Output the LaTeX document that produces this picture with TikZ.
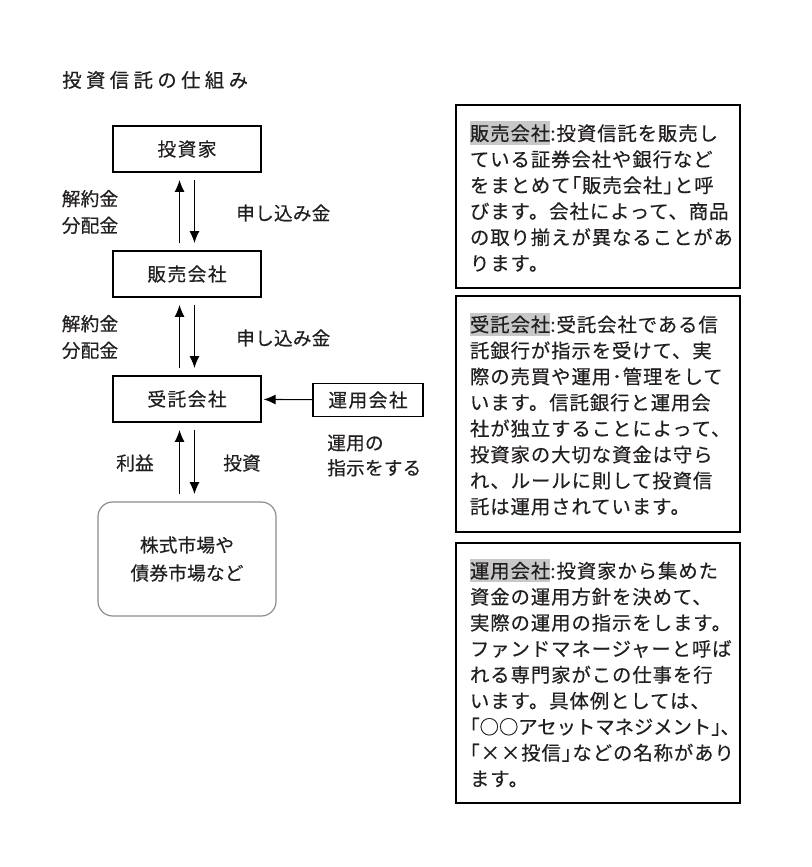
\documentclass[tikz,border=0pt]{standalone}
\usepackage{fontspec}
\usepackage{xcolor}
\usepackage{tikz}
\usetikzlibrary{arrows.meta}
\setmainfont{Noto Sans CJK JP}
\newfontfamily\titlefont[LetterSpace=23,FakeBold=0.4]{Noto Sans CJK JP}
\newfontfamily\boxfont[LetterSpace=8,FakeBold=0.4]{Noto Sans CJK JP}
\newfontfamily\labelfont[LetterSpace=1,FakeBold=0.4]{Noto Sans CJK JP}
\newfontfamily\notefont[LetterSpace=5,FakeBold=0.4]{Noto Sans CJK JP}
\newfontfamily\tightfont[FakeBold=0.4]{Noto Sans CJK JP}
\definecolor{inkgray}{HTML}{231F20}
\definecolor{termgray}{HTML}{C8C8C8}
\definecolor{edgegray}{HTML}{8C8C8C}
\newcommand{\term}[1]{{\setlength{\fboxsep}{0pt}\colorbox{termgray}{\rule[-3pt]{0pt}{17.5pt}#1}}}

\begin{document}
\begin{tikzpicture}[x=0.75pt,y=-0.75pt,
  >={Latex[length=9pt,width=7.5pt]},
  every node/.style={text=inkgray},
  actor/.style={draw,line width=0.9pt,minimum width=111pt,minimum height=34.5pt,
    font=\boxfont\fontsize{14pt}{19.5pt}\selectfont},
  lbl/.style={inner sep=0pt,font=\labelfont\fontsize{14pt}{20pt}\selectfont},
  note/.style={draw,line width=0.9pt,text width=192pt,inner xsep=10.5pt,align=left,
    font=\notefont\fontsize{14.5pt}{19.5pt}\selectfont},
  flow/.style={->,line width=0.8pt,shorten <=5.5pt,shorten >=5.5pt}]
\useasboundingbox (0,0) rectangle (812,867);
\node (title) at (62,80) [anchor=west,inner sep=0pt,font=\titlefont\fontsize{14.5pt}{16pt}\selectfont] {投資信託の仕組み};
% left side: the flow of money
\node (inv) at (187,149) [actor] {投資家};
\node (sell) at (187,274) [actor] {販売会社};
\node (trust) at (187,399) [actor] {受託会社};
\node (mgr) at (368,400) [actor,minimum width=82.5pt,minimum height=24.75pt] {運用会社};
\node (mkt) at (187,559) [actor,draw=edgegray,rounded corners=11pt,minimum width=133.5pt,minimum height=85.5pt,align=center,
  font=\labelfont\fontsize{14pt}{21pt}\selectfont] {株式市場や\\債券市場など};
\draw [flow] ([xshift=-5.6pt]sell.north) to ([xshift=-5.6pt]inv.south);
\draw [flow] ([xshift=5.6pt]inv.south) to ([xshift=5.6pt]sell.north);
\draw [flow] ([xshift=-5.6pt]trust.north) to ([xshift=-5.6pt]sell.south);
\draw [flow] ([xshift=5.6pt]sell.south) to ([xshift=5.6pt]trust.north);
\draw [flow] ([xshift=-5.6pt]mkt.north) to ([xshift=-5.6pt]trust.south);
\draw [flow] ([xshift=5.6pt]trust.south) to ([xshift=5.6pt]mkt.north);
\draw [flow,shorten <=0pt,shorten >=1.5pt] (mgr) to (trust);
\node (back1) at (90,212) [lbl,align=center] {解約金\\分配金};
\node (pay1) at (236,213) [lbl,anchor=west] {申し込み金};
\node (back2) at (90,337) [lbl,align=center] {解約金\\分配金};
\node (pay2) at (236,338) [lbl,anchor=west] {申し込み金};
\node (gain) at (135,463) [lbl] {利益};
\node (put) at (242,463) [lbl] {投資};
\node (order) at (327,455.5) [lbl,anchor=west,align=left,font=\labelfont\fontsize{14pt}{18.75pt}\selectfont] {運用の\\指示をする};
% right side: notes
\node (n1) at (598,196.5) [note,minimum height=137.25pt] {\term{販売会社}:投資信託を販売し\\ている証券会社や銀行など\\をまとめて｢販売会社｣と呼\\びます。会社によって、商品\\の取り揃えが異なることがあ\\ります。};
\node (n2) at (598,414) [note,minimum height=177pt] {\term{受託会社}:受託会社である信\\託銀行が指示を受けて、実\\際の売買や運用･管理をして\\います。信託銀行と運用会\\社が独立することによって、\\投資家の大切な資金は守ら\\れ、ルールに則して投資信\\託は運用されています。};
\node (n3) at (598,673) [note,minimum height=195pt] {\term{運用会社}:投資家から集めた\\資金の運用方針を決めて、\\実際の運用の指示をします。\\ファンドマネージャーと呼ば\\れる専門家がこの仕事を行\\います。具体例としては、\\{\tightfont｢○○アセットマネジメント｣､}\\｢××投信｣などの名称があり\\ます。};
\end{tikzpicture}
\end{document}
